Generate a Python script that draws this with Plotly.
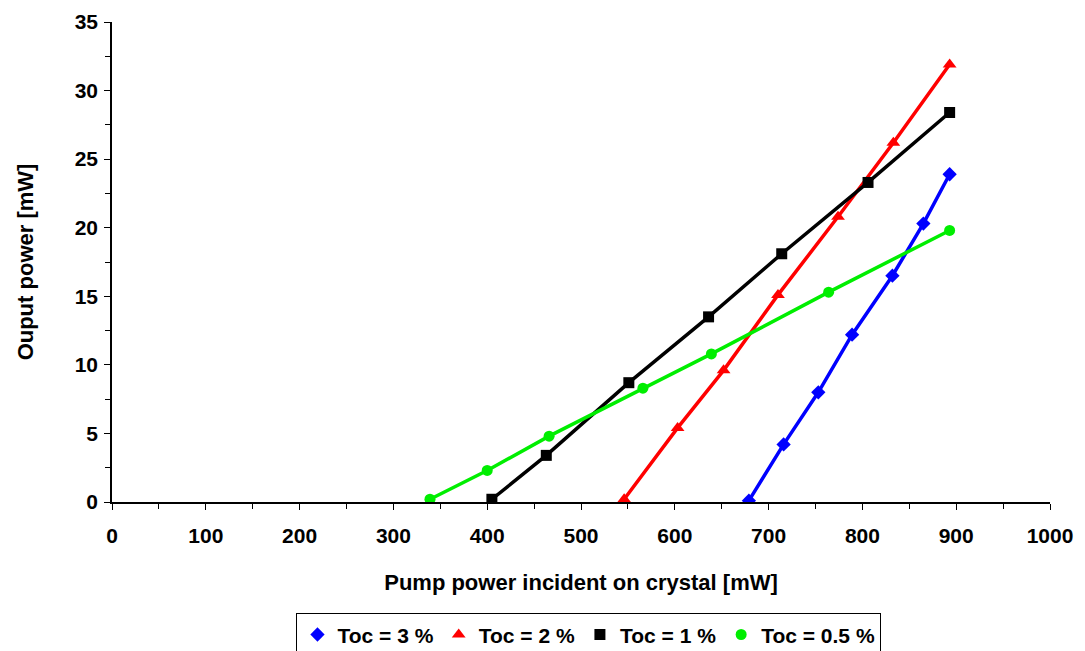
import plotly.graph_objects as go

# Data
pump_3 = [679, 716, 753, 789, 832, 865, 893]
out_3 = [0.1, 4.2, 8.0, 12.2, 16.5, 20.3, 23.9]

pump_2 = [546, 603, 652, 710, 774, 833, 893]
out_2 = [0.2, 5.4, 9.6, 15.1, 20.8, 26.2, 31.9]

pump_1 = [405, 463, 551, 636, 714, 806, 893]
out_1 = [0.2, 3.4, 8.7, 13.5, 18.1, 23.3, 28.4]

pump_05 = [339, 400, 466, 566, 639, 764, 893]
out_05 = [0.2, 2.3, 4.8, 8.3, 10.8, 15.3, 19.8]

names = ["Toc = 3 %", "Toc = 2 %", "Toc = 1 %", "Toc = 0.5 %"]
colors = ["#0000FF", "#FF0000", "#000000", "#00EE00"]
symbols = ["diamond", "triangle-up", "square", "circle"]
marker_sizes = [11, 12, 11, 11]

series = [(pump_3, out_3), (pump_2, out_2), (pump_1, out_1), (pump_05, out_05)]

FONT = "Arial, 'Liberation Sans', sans-serif"

fig = go.Figure()
for (xs, ys), name, c, s, ms in zip(series, names, colors, symbols, marker_sizes):
    fig.add_trace(go.Scatter(
        x=xs, y=ys, mode="lines+markers", name=name, showlegend=False,
        line=dict(color=c, width=3.5),
        marker=dict(color=c, symbol=s, size=ms),
    ))
# legend entries (marker only, like the reference)
for name, c, s, ms in zip(names, colors, symbols, marker_sizes):
    fig.add_trace(go.Scatter(
        x=[None], y=[None], mode="markers", name=name,
        marker=dict(color=c, symbol=s, size=ms),
    ))

fig.update_layout(
    width=1085, height=651,
    margin=dict(l=104, r=43, t=14, b=157, autoexpand=False),
    paper_bgcolor="white", plot_bgcolor="white",
    font=dict(family=FONT, size=21, color="black", weight="bold"),
    showlegend=True,
    legend=dict(
        orientation="h", x=0.5085, xanchor="center", y=-0.232, yanchor="top",
        bordercolor="black", borderwidth=1,
        font=dict(family=FONT, size=21, color="black", weight="bold"),
        itemwidth=30, tracegroupgap=0,
    ),
)
fig.update_xaxes(
    range=[0, 1000], dtick=100, tick0=0,
    showline=True, linecolor="black", linewidth=1.5,
    ticks="outside", ticklen=6, tickcolor="black",
    minor=dict(dtick=50, ticks="outside", ticklen=5, tickcolor="black"),
    showgrid=False, zeroline=False,
    ticklabelstandoff=8,
    tickfont=dict(family=FONT, size=21, weight="bold"),
    title=dict(text="Pump power incident on crystal [mW]", standoff=29,
               font=dict(family=FONT, size=22, weight="bold")),
)
fig.update_yaxes(
    range=[0, 35], dtick=5, tick0=0,
    showline=True, linecolor="black", linewidth=1.5,
    ticks="outside", ticklen=6, tickcolor="black",
    minor=dict(dtick=2.5, ticks="outside", ticklen=5, tickcolor="black"),
    showgrid=False, zeroline=False,
    ticklabelstandoff=2,
    tickfont=dict(family=FONT, size=21, weight="bold"),
    title=dict(text="Ouput power [mW]", standoff=35,
               font=dict(family=FONT, size=22, weight="bold")),
)

fig.write_html("out.html")
